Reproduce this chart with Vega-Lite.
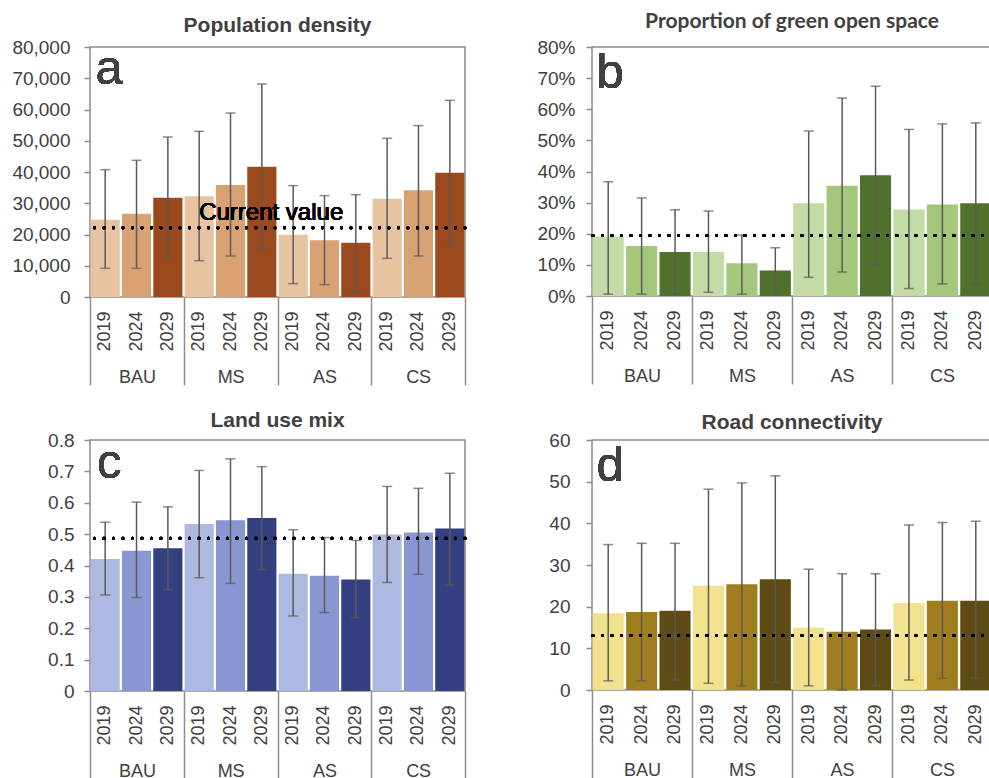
{
  "$schema": "https://vega.github.io/schema/vega-lite/v6.json",
  "padding": {"left": 11, "top": 10, "right": 0, "bottom": 0},
  "bounds": "flush",
  "columns": 2,
  "spacing": {"row": 143, "column": 127},
  "resolve": {"scale": {"color": "independent", "y": "independent", "x": "independent"}, "axis": {"x": "independent", "y": "independent"}},
  "config": {
    "font": "Liberation Sans",
    "view": {"stroke": "#8c8c8c", "strokeWidth": 1.5},
    "axis": {"labelColor": "#404040", "labelFont": "Liberation Sans", "labelFontSize": 19, "grid": false, "domain": false, "tickColor": "#8c8c8c", "tickWidth": 1.5},
    "axisY": {"tickSize": 6},
    "title": {"fontSize": 21, "fontWeight": "bold", "color": "#404040", "font": "Liberation Sans"}
  },
  "datasets": {
    "pop": [
      {"scenario": "BAU", "year": "2019", "key": "BAU 2019", "value": 24750, "lo": 9170, "hi": 40750},
      {"scenario": "BAU", "year": "2024", "key": "BAU 2024", "value": 26670, "lo": 9170, "hi": 43730},
      {"scenario": "BAU", "year": "2029", "key": "BAU 2029", "value": 31790, "lo": 12370, "hi": 51200},
      {"scenario": "MS", "year": "2019", "key": "MS 2019", "value": 32210, "lo": 11630, "hi": 53010},
      {"scenario": "MS", "year": "2024", "key": "MS 2024", "value": 35840, "lo": 13120, "hi": 58880},
      {"scenario": "MS", "year": "2029", "key": "MS 2029", "value": 41710, "lo": 15250, "hi": 68160},
      {"scenario": "AS", "year": "2019", "key": "AS 2019", "value": 19950, "lo": 4270, "hi": 35630},
      {"scenario": "AS", "year": "2024", "key": "AS 2024", "value": 18130, "lo": 3950, "hi": 32430},
      {"scenario": "AS", "year": "2029", "key": "AS 2029", "value": 17390, "lo": 1710, "hi": 32750},
      {"scenario": "CS", "year": "2019", "key": "CS 2019", "value": 31470, "lo": 12370, "hi": 50770},
      {"scenario": "CS", "year": "2024", "key": "CS 2024", "value": 34130, "lo": 13120, "hi": 54830},
      {"scenario": "CS", "year": "2029", "key": "CS 2029", "value": 39790, "lo": 16320, "hi": 62930}
    ],
    "green": [
      {"scenario": "BAU", "year": "2019", "key": "BAU 2019", "value": 19.0, "lo": 0.6, "hi": 36.7},
      {"scenario": "BAU", "year": "2024", "key": "BAU 2024", "value": 16.1, "lo": 0.6, "hi": 31.5},
      {"scenario": "BAU", "year": "2029", "key": "BAU 2029", "value": 14.1, "lo": 0.6, "hi": 27.7},
      {"scenario": "MS", "year": "2019", "key": "MS 2019", "value": 14.1, "lo": 1.2, "hi": 27.3},
      {"scenario": "MS", "year": "2024", "key": "MS 2024", "value": 10.5, "lo": 0.6, "hi": 19.6},
      {"scenario": "MS", "year": "2029", "key": "MS 2029", "value": 8.2, "lo": 0.6, "hi": 15.5},
      {"scenario": "AS", "year": "2019", "key": "AS 2019", "value": 29.8, "lo": 6.0, "hi": 53.0},
      {"scenario": "AS", "year": "2024", "key": "AS 2024", "value": 35.4, "lo": 7.7, "hi": 63.6},
      {"scenario": "AS", "year": "2029", "key": "AS 2029", "value": 38.8, "lo": 10.2, "hi": 67.4},
      {"scenario": "CS", "year": "2019", "key": "CS 2019", "value": 27.8, "lo": 2.4, "hi": 53.5},
      {"scenario": "CS", "year": "2024", "key": "CS 2024", "value": 29.4, "lo": 3.9, "hi": 55.3},
      {"scenario": "CS", "year": "2029", "key": "CS 2029", "value": 29.8, "lo": 3.9, "hi": 55.6}
    ],
    "mix": [
      {"scenario": "BAU", "year": "2019", "key": "BAU 2019", "value": 0.421, "lo": 0.306, "hi": 0.538},
      {"scenario": "BAU", "year": "2024", "key": "BAU 2024", "value": 0.447, "lo": 0.298, "hi": 0.602},
      {"scenario": "BAU", "year": "2029", "key": "BAU 2029", "value": 0.455, "lo": 0.323, "hi": 0.587},
      {"scenario": "MS", "year": "2019", "key": "MS 2019", "value": 0.532, "lo": 0.361, "hi": 0.703},
      {"scenario": "MS", "year": "2024", "key": "MS 2024", "value": 0.544, "lo": 0.343, "hi": 0.740},
      {"scenario": "MS", "year": "2029", "key": "MS 2029", "value": 0.551, "lo": 0.387, "hi": 0.715},
      {"scenario": "AS", "year": "2019", "key": "AS 2019", "value": 0.374, "lo": 0.239, "hi": 0.514},
      {"scenario": "AS", "year": "2024", "key": "AS 2024", "value": 0.367, "lo": 0.250, "hi": 0.489},
      {"scenario": "AS", "year": "2029", "key": "AS 2029", "value": 0.355, "lo": 0.234, "hi": 0.480},
      {"scenario": "CS", "year": "2019", "key": "CS 2019", "value": 0.499, "lo": 0.346, "hi": 0.652},
      {"scenario": "CS", "year": "2024", "key": "CS 2024", "value": 0.505, "lo": 0.372, "hi": 0.646},
      {"scenario": "CS", "year": "2029", "key": "CS 2029", "value": 0.518, "lo": 0.338, "hi": 0.694}
    ],
    "road": [
      {"scenario": "BAU", "year": "2019", "key": "BAU 2019", "value": 18.4, "lo": 2.2, "hi": 34.9},
      {"scenario": "BAU", "year": "2024", "key": "BAU 2024", "value": 18.7, "lo": 2.2, "hi": 35.2},
      {"scenario": "BAU", "year": "2029", "key": "BAU 2029", "value": 19.0, "lo": 2.4, "hi": 35.2},
      {"scenario": "MS", "year": "2019", "key": "MS 2019", "value": 25.0, "lo": 1.6, "hi": 48.2},
      {"scenario": "MS", "year": "2024", "key": "MS 2024", "value": 25.4, "lo": 1.0, "hi": 49.7},
      {"scenario": "MS", "year": "2029", "key": "MS 2029", "value": 26.6, "lo": 1.8, "hi": 51.4},
      {"scenario": "AS", "year": "2019", "key": "AS 2019", "value": 15.0, "lo": 1.0, "hi": 29.0},
      {"scenario": "AS", "year": "2024", "key": "AS 2024", "value": 14.0, "lo": 0.0, "hi": 27.9},
      {"scenario": "AS", "year": "2029", "key": "AS 2029", "value": 14.5, "lo": 1.0, "hi": 27.9},
      {"scenario": "CS", "year": "2019", "key": "CS 2019", "value": 20.9, "lo": 2.4, "hi": 39.6},
      {"scenario": "CS", "year": "2024", "key": "CS 2024", "value": 21.4, "lo": 2.8, "hi": 40.2},
      {"scenario": "CS", "year": "2029", "key": "CS 2029", "value": 21.4, "lo": 2.8, "hi": 40.5}
    ]
  },
  "concat": [
    {
      "width": 375, "height": 250,
      "title": {"text": "Population density", "offset": 2},
      "data": {"name": "pop"},
      "layer": [
        {"layer": [
          {"mark": {"type": "bar"}, "encoding": {
            "x": {"field": "key", "type": "nominal", "sort": null, "scale": {"domain": ["BAU 2019","BAU 2024","BAU 2029","MS 2019","MS 2024","MS 2029","AS 2019","AS 2024","AS 2029","CS 2019","CS 2024","CS 2029"], "paddingInner": 0.07, "paddingOuter": 0.02}, "axis": {"title": null, "orient": "bottom", "labelExpr": "slice(datum.value, -4)", "labelAngle": -90, "ticks": false, "labelPadding": 14, "labelFontSize": 18, "labelOverlap": false}},
            "y": {"field": "value", "type": "quantitative", "scale": {"domain": [0, 80000], "nice": false}, "axis": {"title": null, "values": [0,10000,20000,30000,40000,50000,60000,70000,80000], "format": ",.0f", "labelPadding": 14, "labelOverlap": false}},
            "color": {"field": "year", "type": "nominal", "scale": {"domain": ["2019","2024","2029"], "range": ["#E7C3A0","#D9A273","#9A4A1D"]}, "legend": null}
          }},
          {"mark": {"type": "rule", "color": "#5a5a5a", "strokeWidth": 1.5}, "encoding": {"x": {"field": "key", "type": "nominal", "sort": null}, "y": {"field": "lo", "type": "quantitative", "axis": {"title": null, "values": [0,10000,20000,30000,40000,50000,60000,70000,80000], "format": ",.0f", "labelPadding": 14, "labelOverlap": false}}, "y2": {"field": "hi"}}},
          {"mark": {"type": "tick", "color": "#5a5a5a", "thickness": 1.5, "size": 10}, "encoding": {"x": {"field": "key", "type": "nominal", "sort": null}, "y": {"field": "lo", "type": "quantitative", "axis": {"title": null, "values": [0,10000,20000,30000,40000,50000,60000,70000,80000], "format": ",.0f", "labelPadding": 14, "labelOverlap": false}}}},
          {"mark": {"type": "tick", "color": "#5a5a5a", "thickness": 1.5, "size": 10}, "encoding": {"x": {"field": "key", "type": "nominal", "sort": null}, "y": {"field": "hi", "type": "quantitative", "axis": {"title": null, "values": [0,10000,20000,30000,40000,50000,60000,70000,80000], "format": ",.0f", "labelPadding": 14, "labelOverlap": false}}}},
          {"mark": {"type": "rule", "color": "black", "strokeWidth": 3, "strokeDash": [0.1, 9.4], "strokeCap": "round"}, "encoding": {"y": {"datum": 22200, "type": "quantitative", "axis": {"title": null, "values": [0,10000,20000,30000,40000,50000,60000,70000,80000], "format": ",.0f", "labelPadding": 14, "labelOverlap": false}}}},
          {"mark": {"type": "text", "text": "Current value", "align": "left", "baseline": "alphabetic", "fontSize": 24, "color": "black"}, "encoding": {"x": {"datum": "MS 2019"}, "y": {"datum": 24600, "type": "quantitative", "axis": {"title": null, "values": [0,10000,20000,30000,40000,50000,60000,70000,80000], "format": ",.0f", "labelPadding": 14, "labelOverlap": false}}}},
          {"mark": {"type": "text", "text": "a", "align": "center", "baseline": "alphabetic", "fontSize": 49, "color": "#404040", "dx": 4}, "encoding": {"x": {"datum": "BAU 2019"}, "y": {"datum": 68160, "type": "quantitative", "axis": {"title": null, "values": [0,10000,20000,30000,40000,50000,60000,70000,80000], "format": ",.0f", "labelPadding": 14, "labelOverlap": false}}}}
        ]},
        {"mark": {"type": "tick", "opacity": 0}, "encoding": {"x": {"field": "scenario", "type": "nominal", "sort": null, "scale": {"domain": ["BAU","MS","AS","CS"], "paddingInner": 0, "paddingOuter": 0}, "axis": {"title": null, "orient": "bottom", "tickBand": "extent", "tickSize": 88, "labelPadding": -17, "labelFontSize": 18, "labelAngle": 0, "labelOverlap": false}}}}
      ],
      "resolve": {"scale": {"x": "independent"}, "axis": {"x": "independent"}}
    },
    {
      "width": 400, "height": 249,
      "title": {"text": "Proportion of green open space", "offset": 6, "font": "Lato"},
      "data": {"name": "green"},
      "layer": [
        {"layer": [
          {"mark": {"type": "bar"}, "encoding": {
            "x": {"field": "key", "type": "nominal", "sort": null, "scale": {"domain": ["BAU 2019","BAU 2024","BAU 2029","MS 2019","MS 2024","MS 2029","AS 2019","AS 2024","AS 2029","CS 2019","CS 2024","CS 2029"], "paddingInner": 0.07, "paddingOuter": 0.02}, "axis": {"title": null, "orient": "bottom", "labelExpr": "slice(datum.value, -4)", "labelAngle": -90, "ticks": false, "labelPadding": 14, "labelFontSize": 18, "labelOverlap": false}},
            "y": {"field": "value", "type": "quantitative", "scale": {"domain": [0, 80], "nice": false}, "axis": {"title": null, "values": [0,10,20,30,40,50,60,70,80], "labelExpr": "datum.value + '%'", "labelPadding": 11, "labelOverlap": false}},
            "color": {"field": "year", "type": "nominal", "scale": {"domain": ["2019","2024","2029"], "range": ["#C3DCA6","#A5C77B","#4F712C"]}, "legend": null}
          }},
          {"mark": {"type": "rule", "color": "#5a5a5a", "strokeWidth": 1.5}, "encoding": {"x": {"field": "key", "type": "nominal", "sort": null}, "y": {"field": "lo", "type": "quantitative", "axis": {"title": null, "values": [0,10,20,30,40,50,60,70,80], "labelExpr": "datum.value + '%'", "labelPadding": 11, "labelOverlap": false}}, "y2": {"field": "hi"}}},
          {"mark": {"type": "tick", "color": "#5a5a5a", "thickness": 1.5, "size": 10}, "encoding": {"x": {"field": "key", "type": "nominal", "sort": null}, "y": {"field": "lo", "type": "quantitative", "axis": {"title": null, "values": [0,10,20,30,40,50,60,70,80], "labelExpr": "datum.value + '%'", "labelPadding": 11, "labelOverlap": false}}}},
          {"mark": {"type": "tick", "color": "#5a5a5a", "thickness": 1.5, "size": 10}, "encoding": {"x": {"field": "key", "type": "nominal", "sort": null}, "y": {"field": "hi", "type": "quantitative", "axis": {"title": null, "values": [0,10,20,30,40,50,60,70,80], "labelExpr": "datum.value + '%'", "labelPadding": 11, "labelOverlap": false}}}},
          {"mark": {"type": "rule", "color": "black", "strokeWidth": 3, "strokeDash": [0.1, 9.4], "strokeCap": "round"}, "encoding": {"y": {"datum": 19.4, "type": "quantitative", "axis": {"title": null, "values": [0,10,20,30,40,50,60,70,80], "labelExpr": "datum.value + '%'", "labelPadding": 11, "labelOverlap": false}}}},
          {"mark": {"type": "text", "text": "b", "align": "center", "baseline": "alphabetic", "fontSize": 49, "color": "#404040", "dx": 2}, "encoding": {"x": {"datum": "BAU 2019"}, "y": {"datum": 66.8, "type": "quantitative", "axis": {"title": null, "values": [0,10,20,30,40,50,60,70,80], "labelExpr": "datum.value + '%'", "labelPadding": 11, "labelOverlap": false}}}}
        ]},
        {"mark": {"type": "tick", "opacity": 0}, "encoding": {"x": {"field": "scenario", "type": "nominal", "sort": null, "scale": {"domain": ["BAU","MS","AS","CS"], "paddingInner": 0, "paddingOuter": 0}, "axis": {"title": null, "orient": "bottom", "tickBand": "extent", "tickSize": 88, "labelPadding": -17, "labelFontSize": 18, "labelAngle": 0, "labelOverlap": false}}}}
      ],
      "resolve": {"scale": {"x": "independent"}, "axis": {"x": "independent"}}
    },
    {
      "width": 375, "height": 251,
      "title": {"text": "Land use mix", "offset": 0},
      "data": {"name": "mix"},
      "layer": [
        {"layer": [
          {"mark": {"type": "bar"}, "encoding": {
            "x": {"field": "key", "type": "nominal", "sort": null, "scale": {"domain": ["BAU 2019","BAU 2024","BAU 2029","MS 2019","MS 2024","MS 2029","AS 2019","AS 2024","AS 2029","CS 2019","CS 2024","CS 2029"], "paddingInner": 0.07, "paddingOuter": 0.02}, "axis": {"title": null, "orient": "bottom", "labelExpr": "slice(datum.value, -4)", "labelAngle": -90, "ticks": false, "labelPadding": 14, "labelFontSize": 18, "labelOverlap": false}},
            "y": {"field": "value", "type": "quantitative", "scale": {"domain": [0, 0.8], "nice": false}, "axis": {"title": null, "values": [0,0.1,0.2,0.3,0.4,0.5,0.6,0.7,0.8], "format": "~g", "labelPadding": 10, "labelOverlap": false}},
            "color": {"field": "year", "type": "nominal", "scale": {"domain": ["2019","2024","2029"], "range": ["#AEB9E1","#8896D1","#333F80"]}, "legend": null}
          }},
          {"mark": {"type": "rule", "color": "#5a5a5a", "strokeWidth": 1.5}, "encoding": {"x": {"field": "key", "type": "nominal", "sort": null}, "y": {"field": "lo", "type": "quantitative", "axis": {"title": null, "values": [0,0.1,0.2,0.3,0.4,0.5,0.6,0.7,0.8], "format": "~g", "labelPadding": 10, "labelOverlap": false}}, "y2": {"field": "hi"}}},
          {"mark": {"type": "tick", "color": "#5a5a5a", "thickness": 1.5, "size": 10}, "encoding": {"x": {"field": "key", "type": "nominal", "sort": null}, "y": {"field": "lo", "type": "quantitative", "axis": {"title": null, "values": [0,0.1,0.2,0.3,0.4,0.5,0.6,0.7,0.8], "format": "~g", "labelPadding": 10, "labelOverlap": false}}}},
          {"mark": {"type": "tick", "color": "#5a5a5a", "thickness": 1.5, "size": 10}, "encoding": {"x": {"field": "key", "type": "nominal", "sort": null}, "y": {"field": "hi", "type": "quantitative", "axis": {"title": null, "values": [0,0.1,0.2,0.3,0.4,0.5,0.6,0.7,0.8], "format": "~g", "labelPadding": 10, "labelOverlap": false}}}},
          {"mark": {"type": "rule", "color": "black", "strokeWidth": 3, "strokeDash": [0.1, 9.4], "strokeCap": "round"}, "encoding": {"y": {"datum": 0.487, "type": "quantitative", "axis": {"title": null, "values": [0,0.1,0.2,0.3,0.4,0.5,0.6,0.7,0.8], "format": "~g", "labelPadding": 10, "labelOverlap": false}}}},
          {"mark": {"type": "text", "text": "c", "align": "center", "baseline": "alphabetic", "fontSize": 49, "color": "#404040", "dx": 4}, "encoding": {"x": {"datum": "BAU 2019"}, "y": {"datum": 0.679, "type": "quantitative", "axis": {"title": null, "values": [0,0.1,0.2,0.3,0.4,0.5,0.6,0.7,0.8], "format": "~g", "labelPadding": 10, "labelOverlap": false}}}}
        ]},
        {"mark": {"type": "tick", "opacity": 0}, "encoding": {"x": {"field": "scenario", "type": "nominal", "sort": null, "scale": {"domain": ["BAU","MS","AS","CS"], "paddingInner": 0, "paddingOuter": 0}, "axis": {"title": null, "orient": "bottom", "tickBand": "extent", "tickSize": 88, "labelPadding": -17, "labelFontSize": 18, "labelAngle": 0, "labelOverlap": false}}}}
      ],
      "resolve": {"scale": {"x": "independent"}, "axis": {"x": "independent"}}
    },
    {
      "width": 400, "height": 250,
      "title": {"text": "Road connectivity", "offset": -2},
      "data": {"name": "road"},
      "layer": [
        {"layer": [
          {"mark": {"type": "bar"}, "encoding": {
            "x": {"field": "key", "type": "nominal", "sort": null, "scale": {"domain": ["BAU 2019","BAU 2024","BAU 2029","MS 2019","MS 2024","MS 2029","AS 2019","AS 2024","AS 2029","CS 2019","CS 2024","CS 2029"], "paddingInner": 0.07, "paddingOuter": 0.02}, "axis": {"title": null, "orient": "bottom", "labelExpr": "slice(datum.value, -4)", "labelAngle": -90, "ticks": false, "labelPadding": 14, "labelFontSize": 18, "labelOverlap": false}},
            "y": {"field": "value", "type": "quantitative", "scale": {"domain": [0, 60], "nice": false}, "axis": {"title": null, "values": [0,10,20,30,40,50,60], "labelPadding": 16, "labelOverlap": false}},
            "color": {"field": "year", "type": "nominal", "scale": {"domain": ["2019","2024","2029"], "range": ["#F2E28E","#A07D1E","#5E4B15"]}, "legend": null}
          }},
          {"mark": {"type": "rule", "color": "#5a5a5a", "strokeWidth": 1.5}, "encoding": {"x": {"field": "key", "type": "nominal", "sort": null}, "y": {"field": "lo", "type": "quantitative", "axis": {"title": null, "values": [0,10,20,30,40,50,60], "labelPadding": 16, "labelOverlap": false}}, "y2": {"field": "hi"}}},
          {"mark": {"type": "tick", "color": "#5a5a5a", "thickness": 1.5, "size": 10}, "encoding": {"x": {"field": "key", "type": "nominal", "sort": null}, "y": {"field": "lo", "type": "quantitative", "axis": {"title": null, "values": [0,10,20,30,40,50,60], "labelPadding": 16, "labelOverlap": false}}}},
          {"mark": {"type": "tick", "color": "#5a5a5a", "thickness": 1.5, "size": 10}, "encoding": {"x": {"field": "key", "type": "nominal", "sort": null}, "y": {"field": "hi", "type": "quantitative", "axis": {"title": null, "values": [0,10,20,30,40,50,60], "labelPadding": 16, "labelOverlap": false}}}},
          {"mark": {"type": "rule", "color": "black", "strokeWidth": 3, "strokeDash": [0.1, 9.4], "strokeCap": "round"}, "encoding": {"y": {"datum": 13.1, "type": "quantitative", "axis": {"title": null, "values": [0,10,20,30,40,50,60], "labelPadding": 16, "labelOverlap": false}}}},
          {"mark": {"type": "text", "text": "d", "align": "center", "baseline": "alphabetic", "fontSize": 49, "color": "#404040", "dx": 2}, "encoding": {"x": {"datum": "BAU 2019"}, "y": {"datum": 50.2, "type": "quantitative", "axis": {"title": null, "values": [0,10,20,30,40,50,60], "labelPadding": 16, "labelOverlap": false}}}}
        ]},
        {"mark": {"type": "tick", "opacity": 0}, "encoding": {"x": {"field": "scenario", "type": "nominal", "sort": null, "scale": {"domain": ["BAU","MS","AS","CS"], "paddingInner": 0, "paddingOuter": 0}, "axis": {"title": null, "orient": "bottom", "tickBand": "extent", "tickSize": 88, "labelPadding": -17, "labelFontSize": 18, "labelAngle": 0, "labelOverlap": false}}}}
      ],
      "resolve": {"scale": {"x": "independent"}, "axis": {"x": "independent"}}
    }
  ]
}
